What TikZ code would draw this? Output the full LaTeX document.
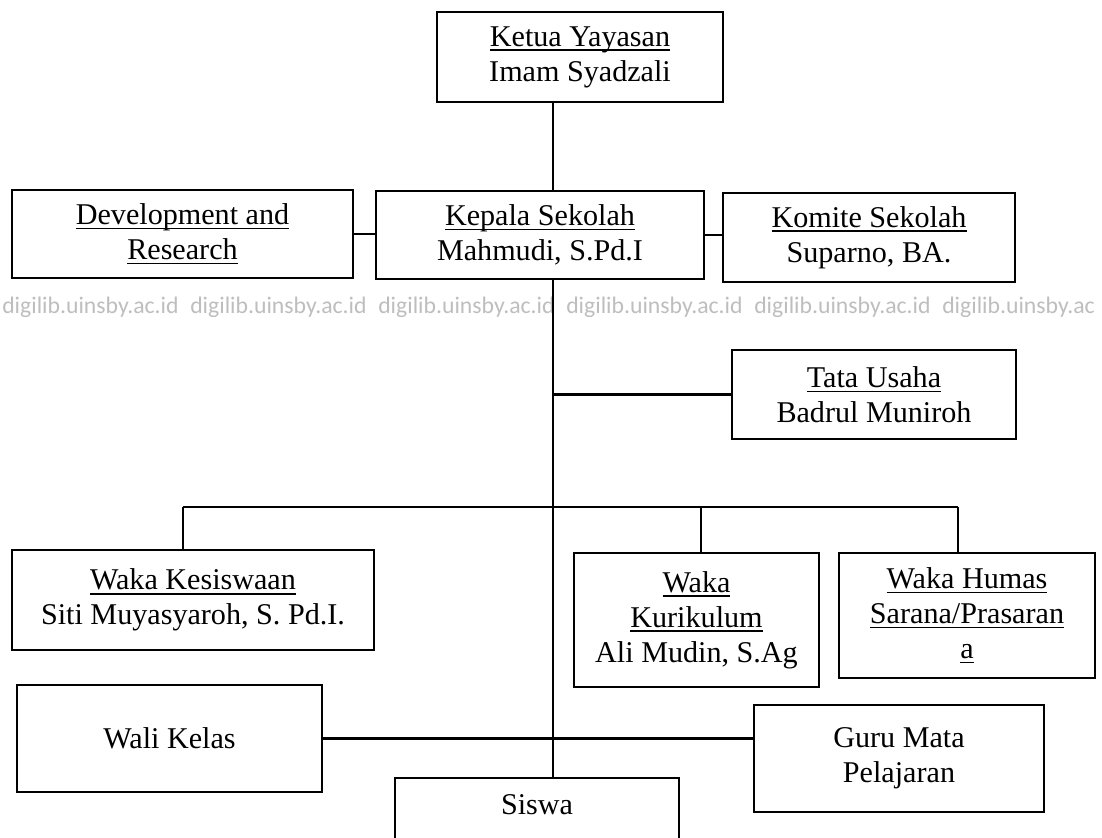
\documentclass[tikz,border=0pt]{standalone}
\usepackage{fontspec}
\setmainfont{Liberation Serif}
\newfontfamily\wmfont{Carlito}
\definecolor{wmgray}{RGB}{190,190,190}
\newcommand{\orgfont}{\fontsize{22.6pt}{26.25pt}\selectfont}
\newcommand{\uln}[1]{\setbox0\hbox{#1}\leavevmode\rlap{\rule[-3.6pt]{\wd0}{1.2pt}}\box0}
\tikzset{
  orgbox/.style = {draw=black, line width=1.7pt, align=center, inner sep=0pt, font=\orgfont},
  link/.style = {line width=1.6pt},
  wmark/.style = {anchor=base west, inner sep=0pt, text=wmgray, font=\wmfont\fontsize{17.8pt}{20pt}\selectfont},
}

\begin{document}
\begin{tikzpicture}[x=0.75pt, y=-0.75pt]
  \path[use as bounding box, clip] (0,0) rectangle (1102,838);
  \fill[white] (0,0) rectangle (1102,838);

  % watermark
  \foreach \i in {0,...,4}
    \node[wmark] (wm\i) at (2+188*\i,313) {digilib.uinsby.ac.id};
  \node[wmark] (wm5) at (942,313) {digilib.uinsby.ac};

  \coordinate (spine) at (553,0);

  % boxes
  \node[orgbox, minimum width=214.5pt, minimum height=67.5pt] (ketua) at (580,57)
    {\uln{Ketua Yayasan}\\Imam Syadzali};
  \node[orgbox, minimum width=246pt, minimum height=66pt] (kepala) at (540,235)
    {\uln{Kepala Sekolah}\\Mahmudi, S.Pd.I};
  \node[orgbox, minimum width=255.75pt, minimum height=66pt] (devres) at (182.5,234)
    {\uln{Development and}\\\uln{Research}};
  \node[orgbox, minimum width=219pt, minimum height=66.75pt] (komite) at (869,237.5)
    {\uln{Komite Sekolah}\\Suparno, BA.};
  \node[orgbox, minimum width=213pt, minimum height=66.75pt] (tatausaha) at (874,394.5)
    {\uln{Tata Usaha}\\Badrul Muniroh};
  \node[orgbox, minimum width=271.5pt, minimum height=75pt] (kesiswaan) at (193,600)
    {\uln{Waka Kesiswaan}\\Siti Muyasyaroh, S. Pd.I.};
  \node[orgbox, minimum width=183.75pt, minimum height=100.5pt] (kurikulum) at (696.5,620)
    {\uln{Waka}\\\uln{Kurikulum}\\Ali Mudin, S.Ag};
  \node[orgbox, minimum width=192pt, minimum height=93.75pt] (humas) at (967,615.5)
    {\uln{Waka Humas}\\\uln{Sarana/Prasaran}\\\uln{a}};
  \node[orgbox, minimum width=228.75pt, minimum height=80.25pt] (walikelas) at (169.5,738.5)
    {Wali Kelas};
  \node[orgbox, minimum width=217.5pt, minimum height=80.25pt] (guru) at (899,758.5)
    {Guru Mata\\Pelajaran};
  \node[orgbox, anchor=north, minimum width=213pt, text height=27pt, text depth=60pt] (siswa) at (537,777)
    {Siswa};

  % connectors
  \draw[link] (ketua.south -| spine) -- (kepala.north -| spine);
  \draw[link] (devres.east) -- (devres.east -| kepala.west);
  \draw[link] (kepala.east) -- (kepala.east -| komite.west);
  \draw[link] (kepala.south -| spine) -- (siswa.north -| spine);
  \draw[link] (tatausaha.west) -- (tatausaha.west -| spine);

  \coordinate (barl) at (183,507);
  \coordinate (barm) at (701,507);
  \coordinate (barr) at (958,507);
  \draw[link] (barl) -- (barr);
  \draw[link] (barl) -- (barl |- kesiswaan.north);
  \draw[link] (barm) -- (barm |- kurikulum.north);
  \draw[link] (barr) -- (barr |- humas.north);

  \draw[link] (walikelas.east) -- (walikelas.east -| guru.west);
\end{tikzpicture}
\end{document}
